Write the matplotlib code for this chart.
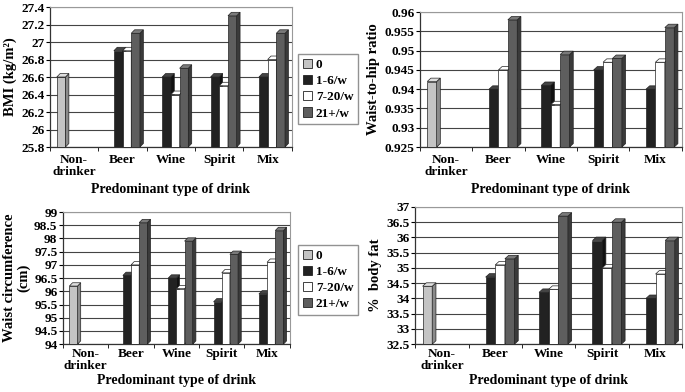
import numpy as np
import matplotlib
matplotlib.use("Agg")
import matplotlib.pyplot as plt
from matplotlib.patches import Polygon, Patch

plt.rcParams['font.family'] = ['Liberation Serif', 'DejaVu Serif']
plt.rcParams['font.weight'] = 'bold'

categories = ["Non-\ndrinker", "Beer", "Wine", "Spirit", "Mix"]
series_names = ["0", "1-6/w", "7-20/w", "21+/w"]
series_colors = ["#c4c4c4", "#222222", "#ffffff", "#5e5e5e"]
side_colors = ["#8a8a8a", "#111111", "#d8d8d8", "#3a3a3a"]
top_colors = ["#dedede", "#444444", "#ffffff", "#7a7a7a"]
nan = np.nan

# rows = series (0, 1-6/w, 7-20/w, 21+/w); columns = categories
bmi = [[26.6, nan, nan, nan, nan],
       [nan, 26.9, 26.6, 26.6, 26.6],
       [nan, 26.9, 26.4, 26.5, 26.8],
       [nan, 27.1, 26.7, 27.3, 27.1]]
bmi_ticks = [25.8, 26.0, 26.2, 26.4, 26.6, 26.8, 27.0, 27.2, 27.4]
bmi_ticklabels = ["25.8", "26", "26.2", "26.4", "26.6", "26.8", "27", "27.2", "27.4"]

whr = [[0.942, nan, nan, nan, nan],
       [nan, 0.940, 0.941, 0.945, 0.940],
       [nan, 0.945, 0.936, 0.947, 0.947],
       [nan, 0.958, 0.949, 0.948, 0.956]]
whr_ticks = [0.925, 0.93, 0.935, 0.94, 0.945, 0.95, 0.955, 0.96]
whr_ticklabels = ["0.925", "0.93", "0.935", "0.94", "0.945", "0.95", "0.955", "0.96"]

waist = [[96.2, nan, nan, nan, nan],
         [nan, 96.6, 96.5, 95.6, 95.9],
         [nan, 97.0, 96.1, 96.7, 97.1],
         [nan, 98.6, 97.9, 97.4, 98.3]]
waist_ticks = [94, 94.5, 95, 95.5, 96, 96.5, 97, 97.5, 98, 98.5, 99]
waist_ticklabels = ["94", "94.5", "95", "95.5", "96", "96.5", "97", "97.5", "98", "98.5", "99"]

fat = [[34.4, nan, nan, nan, nan],
       [nan, 34.7, 34.2, 35.9, 34.0],
       [nan, 35.1, 34.3, 35.0, 34.8],
       [nan, 35.3, 36.7, 36.5, 35.9]]
fat_ticks = [32.5, 33, 33.5, 34, 34.5, 35, 35.5, 36, 36.5, 37]
fat_ticklabels = ["32.5", "33", "33.5", "34", "34.5", "35", "35.5", "36", "36.5", "37"]

xlabel = "Predominant type of drink"

fig = plt.figure(figsize=(6.85, 3.92), dpi=100)

FS = 9.5


def panel(rect, data, ticks, ticklabels, ylabel, xpad, lpad):
    ax = fig.add_axes(rect)
    ymin, ymax = ticks[0], ticks[-1]
    ax.set_xlim(-0.5, len(categories) - 0.5)
    ax.set_ylim(ymin, ymax)
    w = 0.18
    offsets = [-0.27, -0.09, 0.09, 0.27]
    dx = 0.07
    dy = (ymax - ymin) * 0.025
    x = np.arange(len(categories))
    for i, row in enumerate(data):
        vals = np.array(row, dtype=float)
        xs = x + offsets[i]
        mask = ~np.isnan(vals)
        heights = vals[mask] - ymin
        ax.bar(xs[mask], heights, width=w, bottom=ymin, color=series_colors[i],
               edgecolor="#222222", linewidth=0.5, zorder=3)
        for xc, v in zip(xs[mask], vals[mask]):
            side = Polygon([(xc + w / 2, ymin), (xc + w / 2 + dx, ymin + dy),
                            (xc + w / 2 + dx, v + dy), (xc + w / 2, v)],
                           closed=True, facecolor=side_colors[i], edgecolor="#222222",
                           linewidth=0.5, zorder=3)
            top = Polygon([(xc - w / 2, v), (xc - w / 2 + dx, v + dy),
                           (xc + w / 2 + dx, v + dy), (xc + w / 2, v)],
                          closed=True, facecolor=top_colors[i], edgecolor="#222222",
                          linewidth=0.5, zorder=3)
            ax.add_patch(side)
            ax.add_patch(top)
    ax.set_yticks(ticks)
    ax.set_yticklabels(ticklabels, fontsize=FS, fontweight='bold')
    ax.set_xticks(x)
    ax.set_xticklabels(categories, fontsize=FS, fontweight='bold', linespacing=1.0)
    ax.set_xticks(np.arange(len(categories) + 1) - 0.5, minor=True)
    ax.tick_params(axis='x', which='major', length=0, pad=xpad)
    ax.tick_params(axis='x', which='minor', length=3, direction='out')
    ax.tick_params(axis='y', length=3, direction='out', pad=1)
    ax.grid(axis='y', color="#444444", linewidth=0.8, zorder=0)
    ax.set_axisbelow(True)
    for s in ['top', 'right']:
        ax.spines[s].set_color("#999999")
        ax.spines[s].set_linewidth(0.8)
    for s in ['left', 'bottom']:
        ax.spines[s].set_color("#333333")
        ax.spines[s].set_linewidth(0.9)
    ax.set_xlabel(xlabel, fontsize=10, fontweight='bold', labelpad=lpad)
    ax.set_ylabel(ylabel, fontsize=10.5, fontweight='bold', labelpad=3, linespacing=1.0)
    return ax


panel([0.073, 0.625, 0.353, 0.357], bmi, bmi_ticks, bmi_ticklabels, "BMI (kg/m²)", 5, 4)
panel([0.613, 0.625, 0.382, 0.344], whr, whr_ticks, whr_ticklabels, "Waist-to-hip ratio", 5, 4)
panel([0.092, 0.122, 0.331, 0.337], waist, waist_ticks, waist_ticklabels,
      "Waist circumference\n(cm)", 3, 1)
panel([0.606, 0.122, 0.390, 0.350], fat, fat_ticks, fat_ticklabels, "%  body fat", 3, 1)

handles = [Patch(facecolor=c, edgecolor="#222222", linewidth=0.6) for c in series_colors]
for anchor in [(0.435, 0.862), (0.435, 0.375)]:
    fig.legend(handles, series_names, loc='upper left', bbox_to_anchor=anchor,
               frameon=True, fancybox=False, edgecolor="#777777",
               handlelength=0.7, handleheight=0.7, handletextpad=0.3,
               borderpad=0.35, labelspacing=0.3, borderaxespad=0,
               prop={'weight': 'bold', 'size': FS})

fig.savefig("out.png", dpi=100)
